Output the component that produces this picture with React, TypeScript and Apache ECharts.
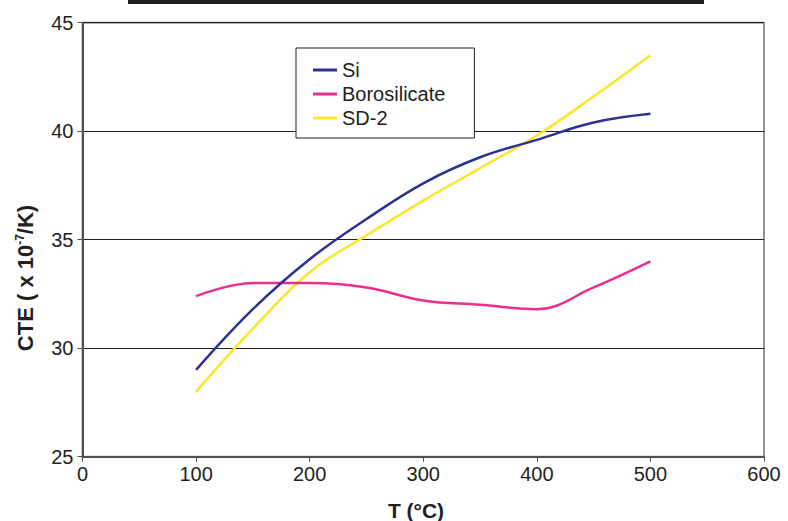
import React, { useEffect, useRef } from "react";
import * as echarts from "echarts";

const temps = [100, 150, 200, 250, 300, 350, 400, 450, 500];
const siValues = [29.0, 31.8, 34.1, 35.95, 37.6, 38.8, 39.6, 40.4, 40.8];
const boroValues = [32.4, 33.0, 33.0, 32.8, 32.2, 32.0, 31.8, 32.8, 34.0];
const sd2Values = [28.0, 30.9, 33.5, 35.2, 36.8, 38.3, 39.8, 41.6, 43.5];
const seriesNames = ["Si", "Borosilicate", "SD-2"];
const seriesColors = ["#2e3192", "#ec2f8e", "#fbe62a"];
const xTitle = "T (°C)";
const yTitleMain = "CTE ( x 10";
const yTitleSup = "-7";
const yTitleEnd = "/K)";

const FONT = "'Liberation Sans', Arial, sans-serif";
const TXT = "#231f20";

export default function App() {
  const ref = useRef<HTMLDivElement>(null);
  useEffect(() => {
    if (!ref.current) return;
    const chart = echarts.init(ref.current, undefined, { renderer: "svg" });
    const allValues = [siValues, boroValues, sd2Values];
    chart.setOption({
      animation: false,
      backgroundColor: "#ffffff",
      textStyle: { fontFamily: FONT },
      grid: {
        left: 82.5,
        right: 24,
        top: 22.7,
        bottom: 64.3,
        show: true,
        borderColor: "#8d959b",
        borderWidth: 2,
        backgroundColor: "transparent",
      },
      legend: {
        orient: "vertical",
        left: 296,
        top: 48,
        padding: [12, 29, 10, 17],
        itemGap: 4,
        itemWidth: 24,
        itemHeight: 3,
        icon: "rect",
        backgroundColor: "#ffffff",
        borderColor: "#231f20",
        borderWidth: 1,
        textStyle: { fontFamily: FONT, fontSize: 20, color: TXT, lineHeight: 20 },
        data: seriesNames,
      },
      xAxis: {
        type: "value",
        min: 0,
        max: 600,
        interval: 100,
        axisLine: { show: true, onZero: false, lineStyle: { color: "#4d4f53", width: 2 } },
        axisTick: { show: true, inside: false, length: 5, lineStyle: { color: "#4d4f53", width: 1 } },
        axisLabel: { fontFamily: FONT, fontSize: 20, color: TXT, margin: 7 },
        splitLine: { show: false },
      },
      yAxis: {
        type: "value",
        min: 25,
        max: 45,
        interval: 5,
        axisLine: { show: true, onZero: false, lineStyle: { color: "#4d4f53", width: 2 } },
        axisTick: { show: true, inside: false, length: 5, lineStyle: { color: "#4d4f53", width: 1 } },
        axisLabel: { fontFamily: FONT, fontSize: 20, color: TXT, margin: 9 },
        splitLine: { show: true, lineStyle: { color: "#231f20", width: 1 } },
      },
      graphic: [
        {
          type: "rect",
          shape: { x: 128, y: 0, width: 576, height: 4 },
          style: { fill: "#231f20" },
        },
        {
          type: "text",
          x: 416,
          y: 510,
          style: {
            text: xTitle,
            font: `bold 21px ${FONT}`,
            fill: TXT,
            align: "center",
            verticalAlign: "middle",
          },
        },
        {
          type: "text",
          x: 25,
          y: 278,
          rotation: Math.PI / 2,
          style: {
            text: `{a|${yTitleMain}}{b|${yTitleSup}}{a|${yTitleEnd}}`,
            align: "center",
            verticalAlign: "middle",
            fill: TXT,
            rich: {
              a: { fontFamily: FONT, fontSize: 22, fontWeight: "bold", fill: TXT },
              b: { fontFamily: FONT, fontSize: 12, fontWeight: "bold", fill: TXT, padding: [0, 0, 10, 0] },
            },
          },
        },
      ],
      series: seriesNames.map((name, i) => ({
        name,
        type: "line",
        smooth: 0.4,
        symbol: "none",
        lineStyle: { color: seriesColors[i], width: 2.5 },
        itemStyle: { color: seriesColors[i] },
        data: temps.map((t, j) => [t, allValues[i][j]]),
        z: 3 - i,
      })),
    });
    return () => chart.dispose();
  }, []);
  return (
    <div
      ref={ref}
      style={{ position: "fixed", left: 0, top: 0, width: 788, height: 521 }}
    />
  );
}
